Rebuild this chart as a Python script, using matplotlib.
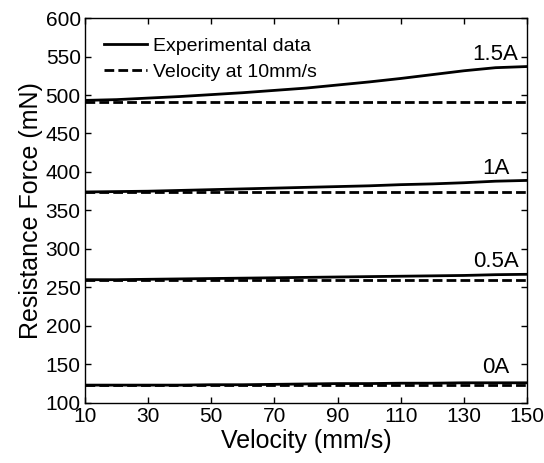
import numpy as np
import matplotlib.pyplot as plt

plt.rcParams['font.family'] = ['Liberation Sans', 'DejaVu Sans']

## velocities (mm/s)
velocity = [10, 20, 30, 40, 50, 60, 70, 80, 90, 100, 110, 120, 130, 140, 150]

## measured resistance force for each current (mN)
force_0A = [123, 123, 123, 123, 123.5, 123.5, 124, 124.5, 125, 125, 125.5,
            125.5, 126, 126, 126]
force_05A = [260, 260, 260.5, 261, 261.5, 262, 262.5, 263, 263.5, 264, 264.5,
             265, 265.5, 266.5, 267]
force_1A = [374, 374.5, 375, 376, 377, 378, 379, 380, 381, 382, 383.5, 384.5,
            386, 388, 389]
force_15A = [493, 494, 496, 498, 500.5, 503, 506, 509, 513, 517, 521.5, 526.5,
             531.5, 535.5, 537]

## force at 10 mm/s for each current
ref_force = [123, 260, 374, 491]
current_labels = ['0A', '0.5A', '1A', '1.5A']
label_y = [146, 283, 404, 553]

x_ticks = [10, 30, 50, 70, 90, 110, 130, 150]
y_ticks = [100, 150, 200, 250, 300, 350, 400, 450, 500, 550, 600]

fig = plt.figure(figsize=(5.44, 4.63), dpi=100)
ax = fig.add_axes([0.156, 0.13, 0.813, 0.831])

curves = [force_0A, force_05A, force_1A, force_15A]
for i in range(len(curves)):
    exp_lab = 'Experimental data' if i == 0 else None
    ref_lab = 'Velocity at 10mm/s' if i == 0 else None
    ax.plot(velocity, curves[i], color='black', lw=2, label=exp_lab)
    ax.plot([velocity[0], velocity[-1]], [ref_force[i], ref_force[i]],
            color='black', lw=2, ls=(0, (3.5, 1.5)), label=ref_lab)
    ax.text(140, label_y[i], current_labels[i], fontsize=16,
            ha='center', va='center')

ax.set_xlim(10, 150)
ax.set_ylim(100, 600)
ax.set_xticks(x_ticks)
ax.set_yticks(y_ticks)
ax.tick_params(direction='in', top=True, right=True, labelsize=15,
               length=4, width=1, pad=3)
ax.set_xlabel('Velocity (mm/s)', fontsize=18, labelpad=2)
ax.set_ylabel('Resistance Force (mN)', fontsize=18, labelpad=2)
for s in ax.spines.values():
    s.set_linewidth(1)

ax.legend(loc='upper left', frameon=False, fontsize=14,
          handlelength=2.2, handletextpad=0.3, borderaxespad=0.6,
          labelspacing=0.4)

fig.savefig('out.png', dpi=100)
